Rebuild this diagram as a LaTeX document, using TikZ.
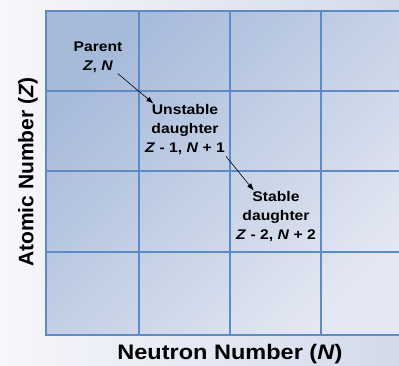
\documentclass[tikz,border=0pt]{standalone}
\usepackage{fontspec}
\setmainfont{Liberation Sans}
\newfontfamily\widefont[FakeStretch=1.12]{Liberation Sans}
\usetikzlibrary{arrows.meta,positioning}
\definecolor{DecBlue}{RGB}{92,139,199}
\definecolor{DecCellDark}{RGB}{166,186,218}
\definecolor{DecCellLight}{RGB}{228,232,242}
\definecolor{DecBgLight}{RGB}{247,247,251}
\definecolor{DecBgDark}{RGB}{210,218,234}
\tikzset{
  dec/label/.style={
    align=center,
    font=\widefont\fontsize{14}{19}\selectfont\bfseries,
    text=black,
    inner sep=1pt
  },
  dec/axis/.style={font=\fontsize{21}{24}\selectfont\bfseries, text=black},
  dec/arrow/.style={-{Latex[length=2.6mm,width=1.8mm]}, semithick, draw=black},
  dec/grid/.style={draw=DecBlue, line width=1.6pt}
}

\begin{document}
\begin{tikzpicture}[x=1pt,y=-1pt]
  \path[use as bounding box, left color=DecBgLight, right color=DecBgDark] (0,0) rectangle (399,366);
  \begin{scope}
    \clip (0,0) rectangle (399,366);
    \shade[left color=DecCellDark, right color=DecCellLight, shading angle=45] (46,11) rectangle (410,335);
    \foreach \x in {46,139,230,321}
      \draw[dec/grid] (\x,11) -- (\x,335);
    \foreach \y in {11,91,171,252,335}
      \draw[dec/grid] (45.2,\y) -- (410,\y);
  \end{scope}

  % decay steps
  \node[dec/label] (parent) at (98,57) {Parent\\\textit{Z}, \textit{N}};
  \node[dec/label] (unstable) at (185,130) {Unstable\\daughter\\\textit{Z} - 1, \textit{N} + 1};
  \node[dec/label] (stable) at (276,217) {Stable\\daughter\\\textit{Z} - 2, \textit{N} + 2};
  \draw[dec/arrow] (parent) -- (unstable);
  \draw[dec/arrow] (unstable.south east) -- (stable.130);

  % axes
  \node[dec/axis] (xlabel) at (230,354) {\widefont Neutron Number (\textit{N})};
  \node[dec/axis, rotate=90] (ylabel) at (28,172) {Atomic Number (\textit{Z})};
\end{tikzpicture}
\end{document}
